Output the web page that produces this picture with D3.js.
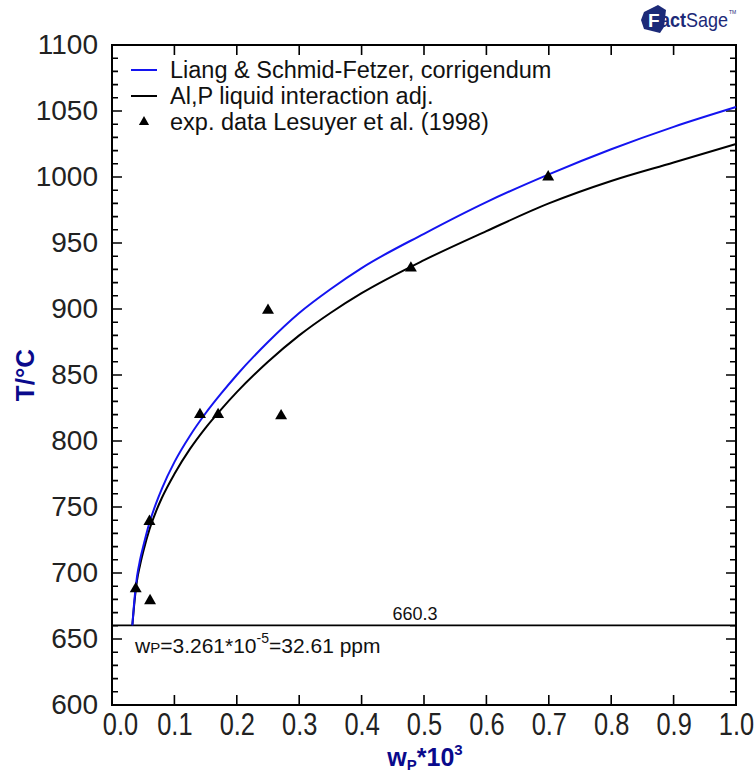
<!DOCTYPE html>
<html>
<head>
<meta charset="utf-8">
<script src="https://cdn.jsdelivr.net/npm/d3@7"></script>
<style>
  body { margin: 0; background: #fff; }
  svg { display: block; font-family: "Liberation Sans", Arial, sans-serif; }
</style>
</head>
<body>
<svg id="chart" width="755" height="778"></svg>
<script>
// liquidus, Liang & Schmid-Fetzer corrigendum (blue)
const blueX = [0.0326, 0.036, 0.040, 0.045, 0.05, 0.06, 0.07, 0.08, 0.10, 0.125, 0.15, 0.175, 0.20, 0.25, 0.30, 0.35, 0.40, 0.50, 0.60, 0.70, 0.80, 0.90, 1.00];
const blueT = [660.3, 680, 697, 710, 720, 738, 752, 764, 784, 804, 821, 836, 850, 875, 897, 915, 931, 957, 981, 1002, 1021, 1038, 1053];

// liquidus, Al,P liquid interaction adjusted (black)
const blackX = [0.0326, 0.036, 0.040, 0.045, 0.05, 0.06, 0.07, 0.08, 0.10, 0.125, 0.15, 0.175, 0.20, 0.25, 0.30, 0.35, 0.40, 0.50, 0.60, 0.70, 0.80, 0.90, 1.00];
const blackT = [660.3, 678, 694, 706, 716, 733, 746, 757, 775, 794, 810, 824, 837, 860, 880, 897, 912, 937, 959, 980, 997, 1011, 1025];

// exp. data Lesuyer et al. (1998)
const expX = [0.038, 0.061, 0.060, 0.141, 0.170, 0.250, 0.271, 0.479, 0.699];
const expT = [688, 679, 739, 820, 820, 899, 819, 931, 1000];

const xTicks = [0.0, 0.1, 0.2, 0.3, 0.4, 0.5, 0.6, 0.7, 0.8, 0.9, 1.0];
const yTicks = [600, 650, 700, 750, 800, 850, 900, 950, 1000, 1050, 1100];

const meltT = 660.3;

const svg = d3.select("#chart");
const plot = { left: 112, right: 736, top: 45, bottom: 705 };

const x = d3.scaleLinear().domain([0, 1]).range([plot.left, plot.right]);
const y = d3.scaleLinear().domain([600, 1100]).range([plot.bottom, plot.top]);

const navy = "#0a0a8c";

// minor y ticks every 10
const yMinor = d3.range(600, 1101, 10).filter(v => v % 50 !== 0);

// tick labels from the axes
const gx = svg.append("g")
    .attr("transform", `translate(0,${plot.bottom})`)
    .call(d3.axisBottom(x).tickValues(xTicks).tickFormat(d3.format(".1f"))
        .tickSize(0).tickPadding(8));
gx.selectAll("text")
    .attr("font-size", 31).attr("fill", "#222")
    .attr("transform", d => d === 0 ? "translate(8,0) scale(0.82,1)" : "scale(0.82,1)");

const gy = svg.append("g")
    .attr("transform", `translate(${plot.left},0)`)
    .call(d3.axisLeft(y).tickValues(yTicks).tickFormat(d3.format("d"))
        .tickSize(0).tickPadding(14));
gy.selectAll("text")
    .attr("font-size", 28).attr("fill", "#222");

svg.selectAll(".domain").remove();

// tick marks, pointing inward on all four sides
const yTickData = yTicks.map(v => ({ v, len: 10 })).concat(yMinor.map(v => ({ v, len: 6 })));
svg.append("path")
    .attr("fill", "none").attr("stroke", "#000").attr("stroke-width", 1.6)
    .attr("d", [
        ...yTickData.map(d => `M${plot.left},${y(d.v)}h${d.len}`),
        ...yTickData.map(d => `M${plot.right},${y(d.v)}h${-d.len}`),
        ...xTicks.map(d => `M${x(d)},${plot.bottom}v-10`),
        ...xTicks.map(d => `M${x(d)},${plot.top}v10`)
    ].join(""));

// frame
svg.append("rect")
    .attr("x", plot.left).attr("y", plot.top)
    .attr("width", plot.right - plot.left).attr("height", plot.bottom - plot.top)
    .attr("fill", "none").attr("stroke", "#000").attr("stroke-width", 2);

// melting line of Al
svg.append("line")
    .attr("x1", x(0)).attr("x2", x(1))
    .attr("y1", y(meltT)).attr("y2", y(meltT))
    .attr("stroke", "#000").attr("stroke-width", 1.8);

svg.append("text")
    .attr("x", 415).attr("y", y(meltT) - 5)
    .attr("text-anchor", "middle")
    .attr("font-size", 18).attr("fill", "#111")
    .text("660.3");

const note = svg.append("text")
    .attr("x", 135).attr("y", y(meltT) + 28)
    .attr("font-size", 21).attr("fill", "#111");
note.append("tspan").text("w");
note.append("tspan").attr("font-size", 15).text("P");
note.append("tspan").text("=3.261*10");
note.append("tspan").attr("font-size", 14).attr("dy", -10).text("-5");
note.append("tspan").attr("dy", 10).text("=32.61 ppm");

// curves
const line = d3.line().x(d => x(d[0])).y(d => y(d[1])).curve(d3.curveMonotoneX);

svg.append("path")
    .datum(blackX.map((v, i) => [v, blackT[i]]))
    .attr("d", line)
    .attr("fill", "none").attr("stroke", "#000").attr("stroke-width", 2);

svg.append("path")
    .datum(blueX.map((v, i) => [v, blueT[i]]))
    .attr("d", line)
    .attr("fill", "none").attr("stroke", "#1414f0").attr("stroke-width", 2);

// experimental points
const tri = d3.symbol().type(d3.symbolTriangle).size(62);
svg.selectAll(".exp")
    .data(expX.map((v, i) => [v, expT[i]]))
    .enter().append("path")
    .attr("class", "exp")
    .attr("d", tri)
    .attr("transform", d => `translate(${x(d[0])},${y(d[1])})`)
    .attr("fill", "#000");

// legend
const legend = svg.append("g").attr("font-size", 23.5).attr("fill", "#111");
const legItems = [
    { label: "Liang & Schmid-Fetzer, corrigendum", kind: "line", color: "#1414f0" },
    { label: "Al,P liquid interaction adj.", kind: "line", color: "#000" },
    { label: "exp. data Lesuyer et al. (1998)", kind: "tri", color: "#000" }
];
legItems.forEach((d, i) => {
    const ly = 70 + i * 26;
    if (d.kind === "line") {
        legend.append("line")
            .attr("x1", 131).attr("x2", 157)
            .attr("y1", ly).attr("y2", ly)
            .attr("stroke", d.color).attr("stroke-width", 2);
    } else {
        legend.append("path")
            .attr("d", d3.symbol().type(d3.symbolTriangle).size(45)())
            .attr("transform", `translate(144,${ly})`)
            .attr("fill", "#000");
    }
    legend.append("text")
        .attr("x", 170).attr("y", ly + 8)
        .text(d.label);
});

// axis titles
svg.append("text")
    .attr("transform", "translate(34,375) rotate(-90)")
    .attr("text-anchor", "middle")
    .attr("font-size", 26).attr("font-weight", "bold").attr("fill", navy)
    .text("T/°C");

const xt = svg.append("text")
    .attr("x", 425).attr("y", 766)
    .attr("text-anchor", "middle")
    .attr("font-size", 25).attr("font-weight", "bold").attr("fill", navy);
xt.append("tspan").text("w");
xt.append("tspan").attr("font-size", 15).attr("dy", 4).text("P");
xt.append("tspan").attr("dy", -4).text("*10");
xt.append("tspan").attr("font-size", 15).attr("dy", -11).text("3");

// FactSage logo
const logo = svg.append("g").attr("transform", "translate(641,5)");
logo.append("path")
    .attr("d", "M3,7 L17,0 L25,5 L23,22 L19,28 L3,24 L0,15 Z")
    .attr("fill", "#1c2a78");
logo.append("text")
    .attr("x", 7).attr("y", 22)
    .attr("font-size", 19).attr("font-weight", "bold").attr("fill", "#fff")
    .text("F");
const logoText = logo.append("text")
    .attr("transform", "translate(19,22) scale(0.9,1)")
    .attr("font-size", 20).attr("fill", "#1c2a78");
logoText.append("tspan").attr("font-weight", "bold").text("act");
logoText.append("tspan").text("Sage");
logo.append("text")
    .attr("x", 88).attr("y", 9).attr("font-size", 5).attr("fill", "#1c2a78").text("TM");
</script>
</body>
</html>
